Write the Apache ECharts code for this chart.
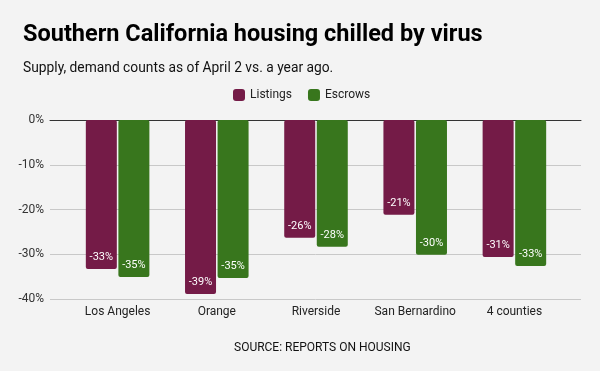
<!DOCTYPE html>
<html><head><meta charset="utf-8">
<script src="https://cdn.jsdelivr.net/npm/echarts@6/dist/echarts.min.js"></script>
<style>html,body{margin:0;padding:0;background:#f3f3f3}#c{width:600px;height:371px}</style>
</head><body><div id="c"></div>
<script>
const categories = ['Los Angeles', 'Orange', 'Riverside', 'San Bernardino', '4 counties'];
const listings = [-33.3, -38.9, -26.3, -21.2, -30.6];
const escrows = [-35.1, -35.3, -28.3, -30.1, -32.6];
const yTicks = [0, -10, -20, -30, -40];

const chart = echarts.init(document.getElementById('c'), null, {renderer: 'canvas'});
const font = 'Roboto, sans-serif';
const lbl = {show: true, position: 'insideBottom', distance: 6, color: '#fff', fontSize: 11, fontFamily: font,
  formatter: p => Math.round(p.value) + '%'};
chart.setOption({
  backgroundColor: '#f3f3f3',
  animation: false,
  title: [
    {text: 'Southern California housing chilled by virus', left: 18, top: 18,
     textStyle: {fontFamily: font, fontSize: 23.5, fontWeight: 'bold', color: '#000'}},
    {text: 'Supply, demand counts as of April 2 vs. a year ago.', left: 18, top: 57,
     textStyle: {fontFamily: font, fontSize: 13.8, fontWeight: 'normal', color: '#111'}},
    {text: 'SOURCE: REPORTS ON HOUSING', left: 229, top: 337,
     textStyle: {fontFamily: font, fontSize: 12, fontWeight: 'normal', color: '#111'}}
  ],
  legend: {top: 84, left: 228, itemWidth: 12, itemHeight: 12, itemGap: 16,
    icon: 'roundRect', textStyle: {fontFamily: font, fontSize: 12, color: '#222'},
    data: ['Listings', 'Escrows']},
  grid: [
    {left: 50, right: 19, top: 120, bottom: 72},
    {left: 68, right: 36, top: 120, bottom: 72}
  ],
  xAxis: [
    {gridIndex: 0, type: 'category', data: categories, position: 'top',
     axisLine: {show: true, lineStyle: {color: '#333', width: 1}}, axisTick: {show: false}, axisLabel: {show: false}},
    {gridIndex: 1, type: 'category', data: categories, axisLine: {show: false}, axisTick: {show: false},
     axisLabel: {interval: 0, margin: 7, color: '#222', fontSize: 12, fontFamily: font}}
  ],
  yAxis: [
    {gridIndex: 0, type: 'value', min: -40, max: 0, interval: 10,
     axisLine: {show: false}, axisTick: {show: false},
     axisLabel: {margin: 6, color: '#333', fontSize: 12, fontFamily: font, formatter: v => v + '%'},
     splitLine: {lineStyle: {color: '#c8c8c8', width: 1}}},
    {gridIndex: 1, type: 'value', min: -40, max: 0, interval: 10, show: false, splitLine: {show: false}}
  ],
  series: [
    {name: 'Listings', type: 'bar', xAxisIndex: 1, yAxisIndex: 1, data: listings, barWidth: 31, barGap: '5%',
     itemStyle: {color: '#741b47', borderRadius: 2}, label: lbl},
    {name: 'Escrows', type: 'bar', xAxisIndex: 1, yAxisIndex: 1, data: escrows, barWidth: 31, barGap: '5%',
     itemStyle: {color: '#38761d', borderRadius: 2}, label: lbl}
  ]
});
</script></body></html>
